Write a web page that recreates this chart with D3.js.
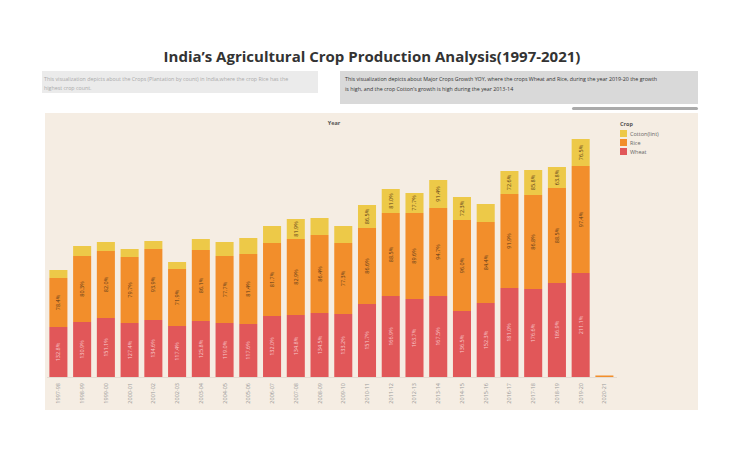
<!DOCTYPE html>
<html><head><meta charset="utf-8">
<script src="https://cdn.jsdelivr.net/npm/d3@7"></script>
<style>body{margin:0;background:#fff;font-family:"Open Sans",sans-serif}</style>
</head><body>
<svg id="chart" width="745" height="457"></svg>
<script>
const years = ["1997-98","1998-99","1999-00","2000-01","2001-02","2002-03","2003-04","2004-05","2005-06","2006-07","2007-08","2008-09","2009-10","2010-11","2011-12","2012-13","2013-14","2014-15","2015-16","2016-17","2017-18","2018-19","2019-20","2020-21"];
const wheat = [50,55,59,54,57,51,56,54,53,61,62,64,63,73,81,78,81,66,74,89,88,94,104,0];
const rice = [49,66,67,66,71,57,71,67,70,73,76,78,71,76,83,86,88,91,81,94,94,95,107,1.5];
const cotton = [8,10,9,8,8,7,11,14,16,17,20,17,17,23,24,20,28,23,18,23,25,21,27,0];
const wheatLabels = ["132.8%","130.9%","151.1%","127.4%","134.6%","117.4%","125.8%","119.0%","117.6%","132.0%","134.8%","134.5%","133.2%","151.7%","166.9%","163.7%","167.5%","136.5%","152.3%","181.0%","176.6%","186.9%","211.1%",null];
const riceLabels = ["78.4%","80.3%","82.0%","79.7%","93.9%","71.9%","86.1%","77.7%","81.4%","81.7%","82.9%","86.4%","77.3%","86.6%","88.5%","89.6%","94.7%","96.0%","84.4%","91.9%","86.8%","88.5%","97.4%",null];
const cottonLabels = [null,null,null,null,null,null,null,null,null,null,"81.9%",null,null,"86.5%","81.0%","77.7%","91.4%","72.3%",null,"72.6%","85.8%","63.8%","76.5%",null];

const crops = ["Cotton(lint)","Rice","Wheat"];
const colors = {"Cotton(lint)":"#edc948","Rice":"#f28e2b","Wheat":"#e15759"};

const svg = d3.select("#chart");

svg.append("text").attr("x",372).attr("y",62).attr("text-anchor","middle")
  .style("font-size","15px").style("font-weight","bold").attr("fill","#333")
  .text("India’s Agricultural Crop Production Analysis(1997-2021)");

svg.append("rect").attr("x",42).attr("y",71).attr("width",276).attr("height",22).attr("fill","#ebebeb");
svg.append("rect").attr("x",340).attr("y",71).attr("width",358).attr("height",33).attr("fill","#d9d9d9");
svg.append("rect").attr("x",572).attr("y",107).attr("width",126).attr("height",3).attr("rx",1.5).attr("fill","#aaa");
const t1 = svg.append("text").style("font-size","5.3px").attr("fill","#aaa");
t1.append("tspan").attr("x",44).attr("y",81).text("This visualization depicts about the Crops (Plantation by count)  in India,where the crop Rice has the");
t1.append("tspan").attr("x",44).attr("y",90).text("highest crop count.");
const t2 = svg.append("text").style("font-size","5.3px").attr("fill","#333");
t2.append("tspan").attr("x",345).attr("y",81).text("This visualization depicts about Major Crops Growth YOY, where the crops Wheat and Rice, during the year 2019-20 the growth");
t2.append("tspan").attr("x",345).attr("y",91).text("is high, and the crop Cotton’s growth is high during  the year 2013-14");

svg.append("rect").attr("x",45).attr("y",113).attr("width",653).attr("height",297).attr("fill","#f5ede3");

const base = 377;
const x = d3.scaleBand().domain(years).range([47, 47+24*23.7]).paddingInner(0.24).paddingOuter(0.1);
const y = d3.scaleLinear().domain([0,250]).range([base,127]);

svg.append("text").attr("x",334).attr("y",125).attr("text-anchor","middle")
  .style("font-size","5.5px").style("font-weight","bold").attr("fill","#555").text("Year");

const rows = years.map((yr,i)=>({year:yr,Wheat:wheat[i],Rice:rice[i],"Cotton(lint)":cotton[i],
  labels:{Wheat:wheatLabels[i],Rice:riceLabels[i],"Cotton(lint)":cottonLabels[i]}}));
const stack = d3.stack().keys(["Wheat","Rice","Cotton(lint)"])(rows);

const g = svg.append("g");
stack.forEach(layer=>{
  const key = layer.key;
  layer.forEach(d=>{
    if(d[1]-d[0] <= 0) return;
    g.append("rect").attr("x",x(d.data.year)).attr("width",x.bandwidth())
      .attr("y",y(d[1])).attr("height",y(d[0])-y(d[1])).attr("fill",colors[key]);
    const lab = d.data.labels[key];
    if(lab){
      const cx = x(d.data.year)+x.bandwidth()/2, cy = (y(d[0])+y(d[1]))/2;
      g.append("text").attr("transform",`translate(${cx+2},${cy}) rotate(-90)`)
        .attr("text-anchor","middle").style("font-size","5.5px")
        .attr("fill", key==="Wheat" ? "#f7c9cc" : "#5a3a1a").text(lab);
    }
  });
});

svg.append("line").attr("x1",47).attr("x2",617).attr("y1",base+0.5).attr("y2",base+0.5).attr("stroke","#e4dcd2");

years.forEach(yr=>{
  svg.append("text").attr("transform",`translate(${x(yr)+x.bandwidth()/2+2},383) rotate(-90)`)
    .attr("text-anchor","end").style("font-size","5.5px").attr("fill","#999").text(yr);
});

svg.append("text").attr("x",620).attr("y",126).style("font-size","5.5px").style("font-weight","bold").attr("fill","#555").text("Crop");
crops.forEach((c,i)=>{
  svg.append("rect").attr("x",620).attr("y",130+i*9).attr("width",7).attr("height",7).attr("fill",colors[c]);
  svg.append("text").attr("x",630).attr("y",135.5+i*9).style("font-size","5.5px").attr("fill","#666").text(c);
});
</script>
</body></html>
